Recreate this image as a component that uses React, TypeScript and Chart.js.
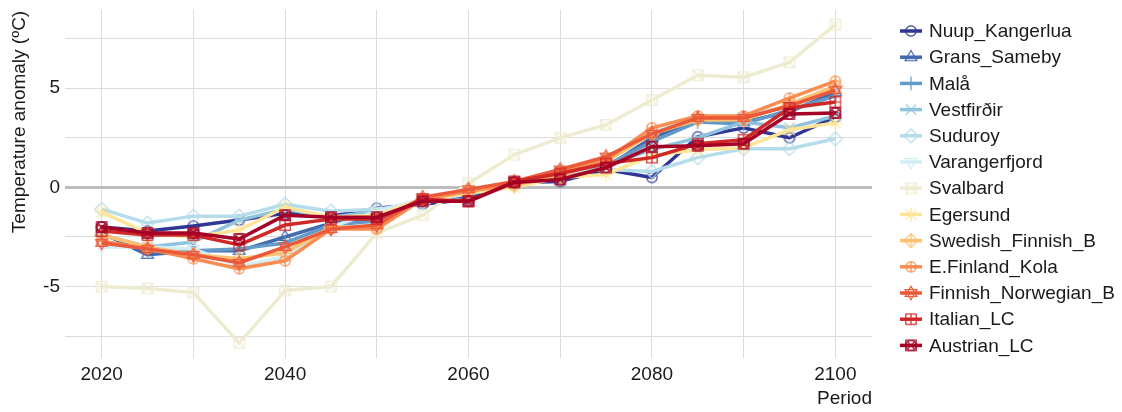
import React, { useEffect, useRef } from 'react';
import { Chart, registerables } from 'chart.js';

Chart.register(...registerables);

const years = [2020, 2025, 2030, 2035, 2040, 2045, 2050, 2055, 2060, 2065, 2070, 2075, 2080, 2085, 2090, 2095, 2100];

const seriesNames = [
  'Nuup_Kangerlua', 'Grans_Sameby', 'Malå', 'Vestfirðir', 'Suduroy', 'Varangerfjord', 'Svalbard',
  'Egersund', 'Swedish_Finnish_B', 'E.Finland_Kola', 'Finnish_Norwegian_B', 'Italian_LC', 'Austrian_LC',
];

const nuupKangerlua = [-2.0, -2.2, -1.95, -1.65, -1.3, -1.45, -1.05, -0.85, -0.6, 0.25, 0.3, 0.9, 0.5, 2.55, 3.0, 2.5, 3.55];
const gransSameby = [-2.3, -3.4, -3.2, -3.2, -2.5, -1.8, -1.6, -0.7, -0.4, 0.2, 0.6, 1.0, 2.5, 3.4, 3.3, 3.8, 4.8];
const mala = [-2.4, -3.0, -3.2, -3.1, -2.8, -1.9, -1.7, -0.7, -0.3, 0.2, 0.7, 1.1, 2.3, 3.3, 3.2, 3.9, 4.6];
const vestfirdir = [-2.4, -3.0, -2.75, -1.65, -1.1, -1.5, -1.2, -0.7, -0.3, 0.3, 0.5, 1.1, 1.9, 2.5, 3.3, 3.0, 3.6];
const suduroy = [-1.1, -1.8, -1.45, -1.45, -0.85, -1.2, -1.1, -0.8, -0.3, 0.2, 0.8, 0.9, 0.8, 1.5, 1.95, 1.95, 2.45];
const varangerfjord = [-3.0, -3.0, -3.1, -4.0, -3.5, -2.0, -1.2, -0.6, -0.2, 0.2, 0.7, 1.3, 2.8, 3.5, 3.6, 4.1, 5.0];
const svalbard = [-5.0, -5.1, -5.3, -7.85, -5.2, -5.0, -2.3, -1.4, 0.2, 1.65, 2.5, 3.15, 4.4, 5.65, 5.55, 6.3, 8.2];
const egersund = [-1.25, -2.3, -2.5, -2.15, -1.0, -1.5, -1.4, -0.6, -0.3, 0.0, 0.5, 0.65, 1.6, 1.9, 2.0, 2.9, 3.25];
const swedishFinnishB = [-2.4, -3.0, -3.4, -3.6, -3.3, -2.0, -2.0, -0.6, -0.2, 0.1, 0.6, 1.3, 2.7, 3.4, 3.4, 4.2, 5.1];
const eFinlandKola = [-2.7, -3.1, -3.6, -4.1, -3.7, -2.1, -2.1, -0.6, -0.2, 0.2, 0.8, 1.4, 3.0, 3.6, 3.6, 4.5, 5.35];
const finnishNorwegianB = [-2.8, -3.1, -3.4, -3.8, -3.0, -2.1, -1.9, -0.5, -0.1, 0.3, 0.9, 1.55, 2.7, 3.5, 3.5, 4.1, 4.9];
const italianLC = [-2.2, -2.4, -2.4, -2.9, -1.9, -1.6, -1.6, -0.6, -0.7, 0.3, 0.7, 1.2, 1.5, 2.2, 2.4, 4.0, 4.3];
const austrianLC = [-2.0, -2.3, -2.3, -2.6, -1.4, -1.5, -1.5, -0.7, -0.7, 0.25, 0.4, 1.0, 2.05, 2.1, 2.2, 3.7, 3.75];

const seriesValues = [
  nuupKangerlua, gransSameby, mala, vestfirdir, suduroy, varangerfjord, svalbard,
  egersund, swedishFinnishB, eFinlandKola, finnishNorwegianB, italianLC, austrianLC,
];

const seriesColors = [
  '#313695', '#426aaf', '#649ac7', '#8fc3dd', '#b5dcea', '#d3edf4', '#eeecd0',
  '#fee598', '#fdbf71', '#f88d52', '#ea593a', '#cf2827', '#a50026',
];

const seriesShapes = [
  'circle', 'triangle', 'plus', 'cross', 'diamond', 'triangleDown', 'squareCross',
  'asterisk', 'diamondPlus', 'circlePlus', 'star6', 'squarePlus', 'circleCross',
];

const xGridValues = [2020, 2030, 2040, 2050, 2060, 2070, 2080, 2090, 2100];
const xLabelValues = [2020, 2040, 2060, 2080, 2100];
const yGridValues = [-7.5, -5, -2.5, 0, 2.5, 5, 7.5];
const yLabelValues = [-5, 0, 5];

const yTitle = 'Temperature anomaly (ºC)';
const xTitle = 'Period';

const FONT = '"Liberation Sans", Arial, Helvetica, sans-serif';
const TEXT_COLOR = '#1a1a1a';

function makeMarker(shape: string, color: string): HTMLCanvasElement {
  const size = 20;
  const c = document.createElement('canvas');
  c.width = size;
  c.height = size;
  const ctx = c.getContext('2d')!;
  const cx = size / 2;
  const cy = size / 2;
  ctx.strokeStyle = color;
  ctx.lineWidth = 1.2;
  const r = 5.2;
  const circle = () => { ctx.beginPath(); ctx.arc(cx, cy, r, 0, Math.PI * 2); ctx.stroke(); };
  const square = () => { ctx.strokeRect(cx - r, cy - r, 2 * r, 2 * r); };
  const plus = (a: number) => { ctx.beginPath(); ctx.moveTo(cx - a, cy); ctx.lineTo(cx + a, cy); ctx.moveTo(cx, cy - a); ctx.lineTo(cx, cy + a); ctx.stroke(); };
  const xcross = (a: number) => { ctx.beginPath(); ctx.moveTo(cx - a, cy - a); ctx.lineTo(cx + a, cy + a); ctx.moveTo(cx - a, cy + a); ctx.lineTo(cx + a, cy - a); ctx.stroke(); };
  const tri = (down: boolean) => {
    const h = 6.8;
    const s = down ? -1 : 1;
    ctx.beginPath();
    ctx.moveTo(cx, cy - s * h);
    ctx.lineTo(cx + h * 0.866, cy + s * h * 0.5);
    ctx.lineTo(cx - h * 0.866, cy + s * h * 0.5);
    ctx.closePath();
    ctx.stroke();
  };
  const diamond = () => {
    const d = 7;
    ctx.beginPath();
    ctx.moveTo(cx, cy - d); ctx.lineTo(cx + d, cy); ctx.lineTo(cx, cy + d); ctx.lineTo(cx - d, cy); ctx.closePath();
    ctx.stroke();
  };
  switch (shape) {
    case 'circle': circle(); break;
    case 'triangle': tri(false); break;
    case 'plus': plus(7); break;
    case 'cross': xcross(5.2); break;
    case 'diamond': diamond(); break;
    case 'triangleDown': tri(true); break;
    case 'squareCross': square(); xcross(r); break;
    case 'asterisk': plus(7); xcross(5.2); break;
    case 'diamondPlus': diamond(); plus(7); break;
    case 'circlePlus': circle(); plus(r); break;
    case 'star6': tri(false); tri(true); break;
    case 'squarePlus': square(); plus(r); break;
    case 'circleCross': circle(); xcross(r * 0.72); square(); break;
    default: circle();
  }
  return c;
}

const textPlugin = {
  id: 'extraText',
  afterDraw(chart: any, _args: any, opts: any) {
    const ctx = chart.ctx;
    const area = chart.chartArea;
    ctx.save();
    ctx.font = `19px ${FONT}`;
    ctx.fillStyle = TEXT_COLOR;
    // y title
    ctx.save();
    ctx.translate(20, 122);
    ctx.rotate(-Math.PI / 2);
    ctx.textAlign = 'center';
    ctx.textBaseline = 'middle';
    ctx.fillText(yTitle, 0, 0);
    ctx.restore();
    // x title
    ctx.textAlign = 'right';
    ctx.textBaseline = 'alphabetic';
    ctx.fillText(xTitle, area.right, 404);
    // legend
    const markers: HTMLCanvasElement[] = opts.markers;
    chart.data.datasets.forEach((ds: any, i: number) => {
      const y = 31 + i * 26.2;
      ctx.strokeStyle = ds.borderColor;
      ctx.lineWidth = 3.5;
      ctx.beginPath();
      ctx.moveTo(900, y);
      ctx.lineTo(922, y);
      ctx.stroke();
      const m = markers[i];
      ctx.drawImage(m, 911 - m.width / 2, y - m.height / 2);
      ctx.fillStyle = TEXT_COLOR;
      ctx.textAlign = 'left';
      ctx.textBaseline = 'middle';
      ctx.fillText(ds.label, 929, y + 1);
    });
    ctx.restore();
  },
};

export default function App() {
  const canvasRef = useRef<HTMLCanvasElement | null>(null);

  useEffect(() => {
    if (!canvasRef.current) return;
    const markers = seriesNames.map((_, i) => makeMarker(seriesShapes[i], seriesColors[i]));
    const datasets = seriesNames.map((name, i) => ({
      label: name,
      data: years.map((yr, j) => ({ x: yr, y: seriesValues[i][j] })),
      borderColor: seriesColors[i],
      backgroundColor: seriesColors[i],
      borderWidth: 3.5,
      borderJoinStyle: 'round' as const,
      pointStyle: markers[i],
      pointRadius: 5,
      pointHoverRadius: 5,
      fill: false,
      tension: 0,
      order: seriesNames.length - 1 - i,
    }));
    const chart = new Chart(canvasRef.current, {
      type: 'line',
      data: { datasets },
      plugins: [textPlugin],
      options: {
        animation: false,
        responsive: false,
        maintainAspectRatio: false,
        layout: { padding: { top: 10, right: 250, left: 0, bottom: 0 } },
        plugins: {
          legend: { display: false },
          tooltip: { enabled: false },
          extraText: { markers },
        } as any,
        scales: {
          x: {
            type: 'linear',
            min: 2016,
            max: 2104,
            afterBuildTicks: (s: any) => { s.ticks = xGridValues.map((v) => ({ value: v })); },
            afterFit: (s: any) => { s.height = 54; s.paddingLeft = 0; s.paddingRight = 0; },
            grid: { color: '#dcdcdc', lineWidth: 1, drawTicks: false },
            border: { display: false },
            ticks: {
              autoSkip: false,
              maxRotation: 0,
              padding: 5,
              color: TEXT_COLOR,
              font: { family: FONT, size: 19 },
              callback: (v: any) => (xLabelValues.includes(Number(v)) ? String(v) : ''),
            },
          },
          y: {
            type: 'linear',
            min: -8.6,
            max: 8.94,
            afterBuildTicks: (s: any) => { s.ticks = yGridValues.map((v) => ({ value: v })); },
            afterFit: (s: any) => { s.width = 65; s.paddingTop = 0; s.paddingBottom = 0; },
            grid: {
              color: (c: any) => (c.tick && c.tick.value === 0 ? '#bdbdbd' : '#dcdcdc'),
              lineWidth: (c: any) => (c.tick && c.tick.value === 0 ? 3 : 1),
              drawTicks: false,
            },
            border: { display: false },
            ticks: {
              autoSkip: false,
              padding: 5,
              color: TEXT_COLOR,
              font: { family: FONT, size: 19 },
              callback: (v: any) => (yLabelValues.includes(Number(v)) ? String(v) : ''),
            },
          },
        },
      },
    });
    return () => chart.destroy();
  }, []);

  return (
    <div style={{ position: 'absolute', left: 0, top: 0, width: 1122, height: 412, background: '#fff' }}>
      <canvas ref={canvasRef} width={1122} height={412} style={{ display: 'block' }} />
    </div>
  );
}
